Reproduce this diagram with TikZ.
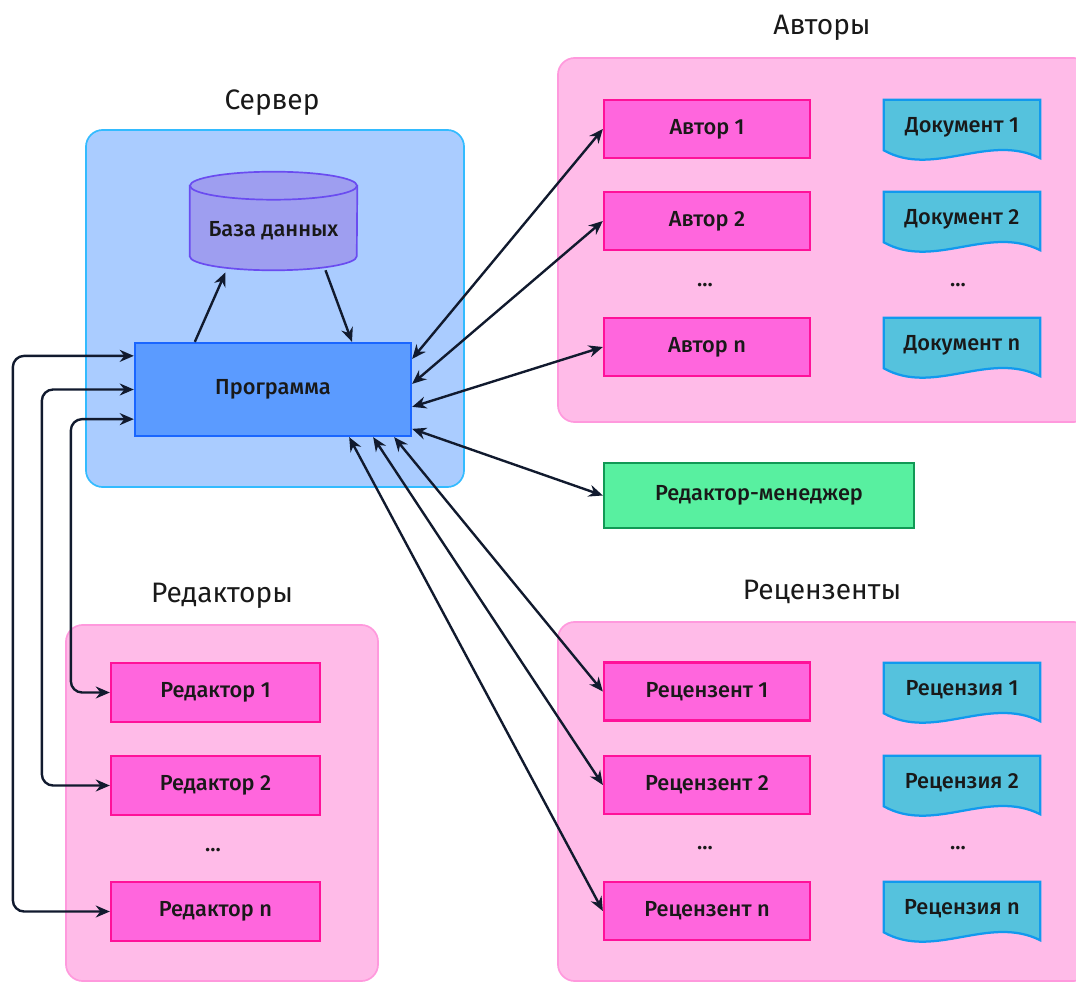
\documentclass[tikz,border=0pt]{standalone}
\usepackage{fontspec}
\setmainfont{Fira Sans}
\newfontfamily\medfont{Fira Sans Medium}
\usepackage{xcolor}
\usetikzlibrary{arrows.meta,calc,positioning}

\definecolor{csrvfill}{HTML}{AACCFF}
\definecolor{csrvline}{HTML}{33BBFF}
\definecolor{cdbfill}{HTML}{9E9EF0}
\definecolor{cdbline}{HTML}{6A4CF0}
\definecolor{cprogfill}{HTML}{5B9BFF}
\definecolor{cprogline}{HTML}{1A66FF}
\definecolor{cgrpfill}{HTML}{FFBBE8}
\definecolor{cgrpline}{HTML}{FF99DD}
\definecolor{cactfill}{HTML}{FF66DD}
\definecolor{cactline}{HTML}{FF1199}
\definecolor{cdocfill}{HTML}{55C2DD}
\definecolor{cdocline}{HTML}{1199EE}
\definecolor{cmgrfill}{HTML}{58F0A0}
\definecolor{cmgrline}{HTML}{119955}
\definecolor{carrow}{HTML}{111A2E}

\pgfdeclarelayer{grp}
\pgfdeclarelayer{bg}
\pgfsetlayers{grp,bg,main}

\begin{document}
\begin{tikzpicture}[x=0.025cm, y=-0.025cm,
    font=\medfont\fontsize{15.5}{18}\selectfont, text=black!90,
    title/.style={font=\rmfamily\fontsize{20}{24}\selectfont},
    srvgroup/.style={draw=csrvline, fill=csrvfill, line width=1.2pt, rounded corners=12pt},
    pinkgroup/.style={draw=cgrpline, fill=cgrpfill, line width=1.2pt, rounded corners=12pt},
    actor/.style={draw=cactline, fill=cactfill, line width=1.6pt, minimum width=5.15cm, minimum height=1.45cm},
    editor/.style={actor, minimum width=5.225cm, minimum height=1.475cm},
    docbox/.style={minimum width=3.9cm, minimum height=1.45cm, inner sep=0pt},
    docline/.style={draw=cdocline, fill=cdocfill, line width=1.6pt},
    dbbox/.style={minimum width=4.175cm, minimum height=1.95cm, inner sep=0pt},
    dbline/.style={draw=cdbline, fill=cdbfill, line width=1.2pt},
    progbox/.style={draw=cprogline, fill=cprogfill, line width=1.6pt, minimum width=6.9cm, minimum height=2.325cm},
    mgrbox/.style={draw=cmgrline, fill=cmgrfill, line width=1.6pt, minimum width=7.75cm, minimum height=1.625cm},
    link/.style={draw=carrow, line width=1.7pt, {Stealth[length=10pt,width=8.5pt]}-{Stealth[length=10pt,width=8.5pt]}},
    oneway/.style={draw=carrow, line width=1.7pt, -{Stealth[length=10pt,width=8.5pt]}}
    ]
    \useasboundingbox (0,0) rectangle (1076,983);

    % groups
    \begin{pgfonlayer}{grp}
        \node[srvgroup, minimum width=9.45cm, minimum height=8.925cm] (srv) at (275,308.5) {};
        \node[pinkgroup, minimum width=13.3cm, minimum height=9.1cm] (authors) at (824,240) {};
        \node[pinkgroup, minimum width=7.8cm, minimum height=8.9cm] (editors) at (222,803) {};
        \node[pinkgroup, minimum width=13.3cm, minimum height=8.975cm] (reviewers) at (824,801.5) {};
    \end{pgfonlayer}

    \node[title] (t-authors) at (822,28) {Авторы};
    \node[title] (t-srv) at (272,103) {Сервер};
    \node[title] (t-editors) at (222,596) {Редакторы};
    \node[title] (t-reviewers) at (822,592) {Рецензенты};

    % server
    \node[dbbox] (db) at (273.5,231) {База данных};
    \node[progbox] (prog) at (273,389.5) {Программа};

    % authors
    \node[actor] (a1) at (707,129) {Автор 1};
    \node[actor] (a2) at (707,221) {Автор 2};
    \node (adots) at (705,285) {...};
    \node[actor] (an) at (707,347) {Автор n};
    \node[docbox] (d1) at (962,127) {Документ 1};
    \node[docbox] (d2) at (962,219) {Документ 2};
    \node (ddots) at (958,285) {...};
    \node[docbox] (dn) at (962,345) {Документ n};

    \node[mgrbox] (mgr) at (759,495.5) {Редактор-менеджер};

    % editors
    \node[editor] (e1) at (215.5,692.5) {Редактор 1};
    \node[editor] (e2) at (215.5,785.5) {Редактор 2};
    \node (edots) at (213,850) {...};
    \node[editor] (en) at (215.5,911.5) {Редактор n};

    % reviewers
    \node[actor] (r1) at (707,691.5) {Рецензент 1};
    \node[actor] (r2) at (707,785) {Рецензент 2};
    \node (rdots) at (705,848) {...};
    \node[actor] (rn) at (707,911) {Рецензент n};
    \node[docbox] (q1) at (962,690) {Рецензия 1};
    \node[docbox] (q2) at (962,783) {Рецензия 2};
    \node (qdots) at (958,848) {...};
    \node[docbox] (qn) at (962,909) {Рецензия n};

    % shapes under the texts
    \begin{pgfonlayer}{bg}
        \foreach \d in {d1,d2,dn,q1,q2,qn}
            \draw[docline] ($(\d.north west)+(0,2)$) -- ($(\d.south west)+(0,-6)$)
                .. controls ($(\d.south west)+(50,22)$) and ($(\d.south west)+(105,-24)$) .. ($(\d.south east)+(0,2)$)
                -- ($(\d.north east)+(0,2)$) -- cycle;
        \draw[dbline] ($(db.north west)+(0,-6)$) -- ($(db.south west)+(0,-14)$)
            arc[start angle=180, end angle=360, x radius=2.0875cm, y radius=0.35cm]
            -- ($(db.north east)+(0,-6)$) -- cycle;
        \draw[dbline] ($(db.north)+(0,-6)$) ellipse[x radius=2.0875cm, y radius=0.35cm];
    \end{pgfonlayer}

    % connectors
    \draw[oneway] ($(prog.north west)+(61,0)$) -- ($(db.south)+(-48,2)$);
    \draw[oneway] ($(db.south)+(52,0)$) -- ($(prog.north)+(79,0)$);

    \draw[link, rounded corners=8pt] ($(prog.north west)+(0,14)$) -- ++(-121,0) |- (en.west);
    \draw[link, rounded corners=8pt] (prog.west) -- ++(-92,0) |- (e2.west);
    \draw[link, rounded corners=8pt] ($(prog.south west)+(0,-18)$) -- ++(-63,0) |- (e1.west);

    \draw[link] (a1.west) -- ($(prog.north east)+(0,17)$);
    \draw[link] (a2.west) -- ($(prog.north east)+(0,42)$);
    \draw[link] (an.west) -- ($(prog.north east)+(0,65)$);
    \draw[link] (mgr.west) -- ($(prog.north east)+(0,87)$);

    \draw[link] (r1.west) -- ($(prog.south east)+(-18,0)$);
    \draw[link] (r2.west) -- ($(prog.south east)+(-39,0)$);
    \draw[link] (rn.west) -- ($(prog.south east)+(-63,0)$);
\end{tikzpicture}
\end{document}
